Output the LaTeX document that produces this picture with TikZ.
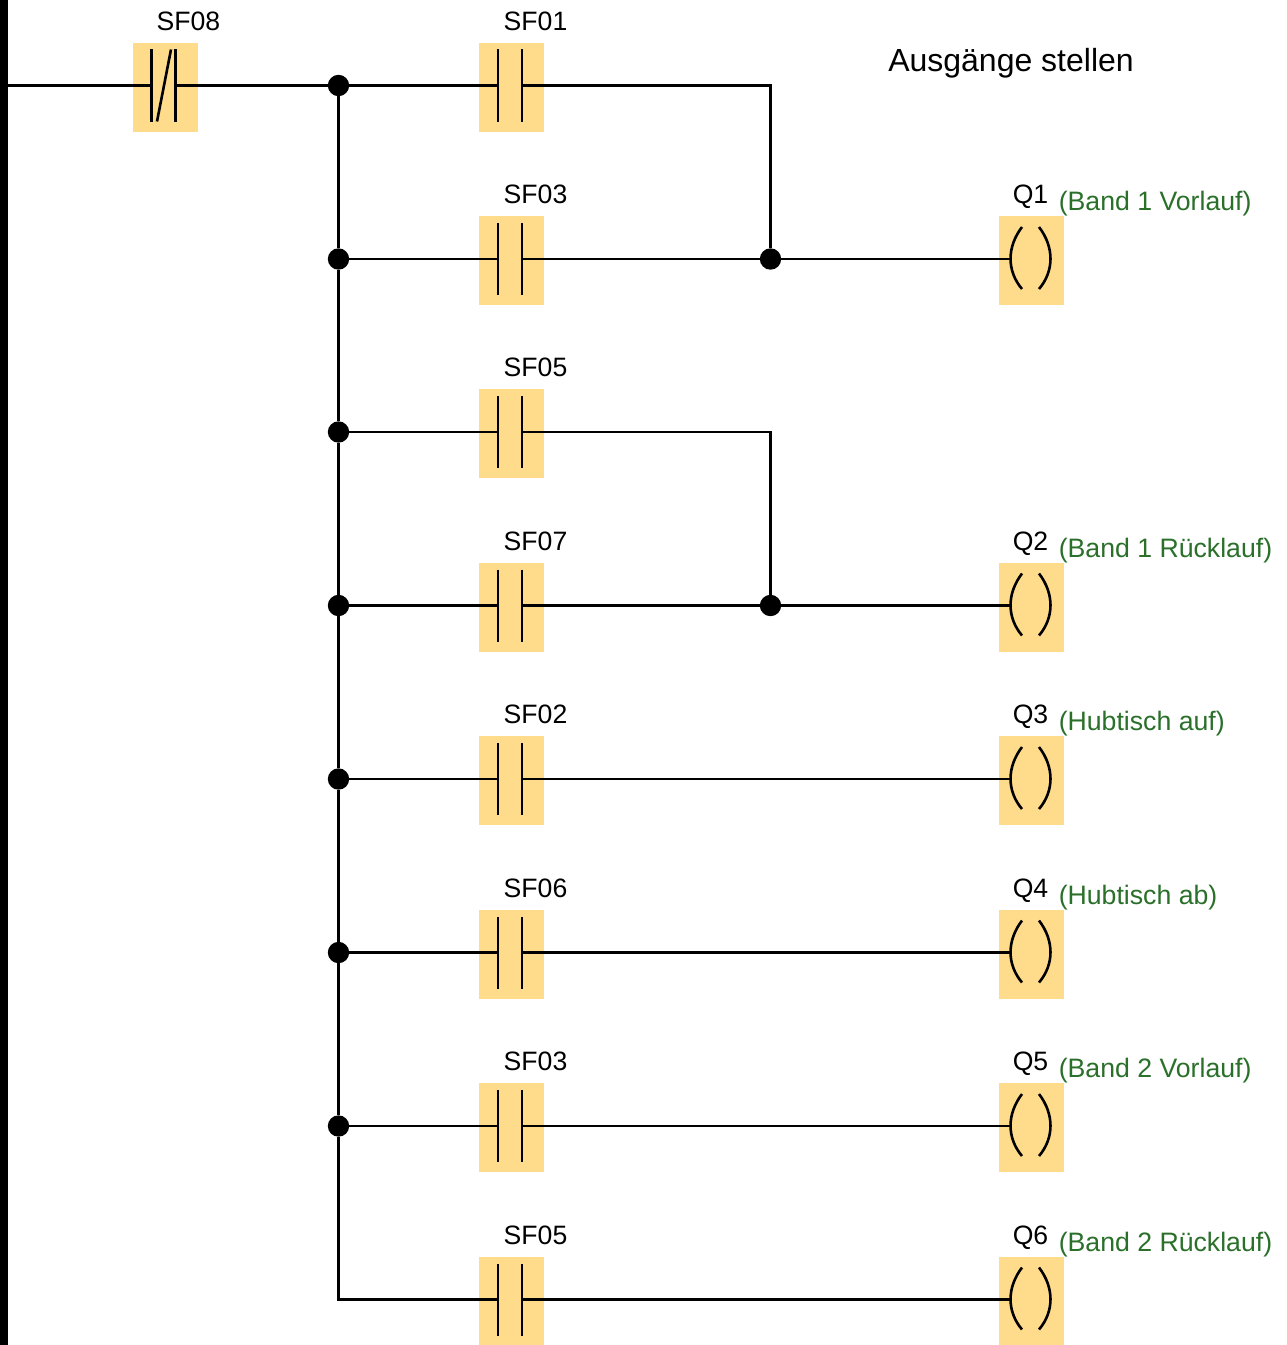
\documentclass[tikz,border=0pt]{standalone}
\usepackage{fontspec}
\setmainfont{Liberation Sans}
\definecolor{boxfill}{HTML}{FFDC8C}
\definecolor{notegreen}{HTML}{2A702A}
\tikzset{
  wire/.style={line width=1.95pt,black,line cap=butt},
  plate/.style={line width=1.95pt,black,line cap=butt},
  cell/.style={fill=boxfill,draw=none,inner sep=0pt,minimum width=48.75pt,minimum height=66.75pt},
  tag/.style={anchor=base,inner sep=0pt,font=\fontsize{19.95pt}{22pt}\selectfont},
  note/.style={anchor=base west,inner sep=0pt,text=notegreen,font=\fontsize{20pt}{22pt}\selectfont},
  title/.style={anchor=base west,inner sep=0pt,font=\fontsize{24pt}{26pt}\selectfont},
  dot/.style={circle,fill=black,draw=none,inner sep=0pt,minimum size=16pt},
}
% #1 name, #2 x of box centre, #3 y of wire, #4 label
\newcommand{\nocontact}[4]{
  \begin{scope}[shift={(#2,#3)}]
    \node[cell] (#1) at (0,1.65) {};
    \node[tag] (#1-tag) at (24,-55.3) {#4};
    \coordinate (#1-l) at (-13.5,0);
    \coordinate (#1-r) at (10.5,0);
    \draw[plate] (-13.5,-36) -- (-13.5,36);
    \draw[plate] (10.5,-36) -- (10.5,36);
  \end{scope}
}
\newcommand{\nccontact}[4]{
  \begin{scope}[shift={(#2,#3)}]
    \node[cell] (#1) at (0,2) {};
    \node[tag] (#1-tag) at (23,-55.3) {#4};
    \coordinate (#1-l) at (-14,0);
    \coordinate (#1-r) at (10,0);
    \draw[plate] (-14,-36) -- (-14,36);
    \draw[plate] (10,-36) -- (10,36);
    \draw[plate] (-8.5,36) -- (5.5,-36);
  \end{scope}
}
% #1 name, #2 y of wire, #3 label, #4 note
\newcommand{\coil}[4]{
  \begin{scope}[shift={(1031.5,#2)}]
    \node[cell] (#1) at (0,1.65) {};
    \node[tag] (#1-tag) at (-1,-55.3) {#3};
    \node[note] (#1-note) at (27,-48.3) {#4};
    \coordinate (#1-l) at (-21,0);
    \draw[plate] (-9.5,-32) .. controls (-24.8,-12) and (-24.8,12) .. (-9.5,30);
    \draw[plate] (7.5,-32) .. controls (22.8,-12) and (22.8,12) .. (7.5,30);
  \end{scope}
}
\begin{document}
\begin{tikzpicture}[x=0.75pt,y=-0.75pt]
\useasboundingbox (0,0) rectangle (1286,1345);
\fill[white] (0,0) rectangle (1286,1345);
\node[fill=black,draw=none,inner sep=0pt,minimum width=6pt,minimum height=1008.75pt] (bar) at (4,672.5) {};

\nccontact{sf08}{165.5}{85.5}{SF08}
\nocontact{sf01}{511.5}{85.5}{SF01}
\nocontact{sf03a}{511.5}{259}{SF03}
\nocontact{sf05a}{511.5}{432}{SF05}
\nocontact{sf07}{511.5}{605.5}{SF07}
\nocontact{sf02}{511.5}{779}{SF02}
\nocontact{sf06}{511.5}{952.5}{SF06}
\nocontact{sf03b}{511.5}{1126}{SF03}
\nocontact{sf05b}{511.5}{1299.5}{SF05}

\coil{q1}{259}{Q1}{(Band 1 Vorlauf)}
\coil{q2}{605.5}{Q2}{(Band 1 Rücklauf)}
\coil{q3}{779}{Q3}{(Hubtisch auf)}
\coil{q4}{952.5}{Q4}{(Hubtisch ab)}
\coil{q5}{1126}{Q5}{(Band 2 Vorlauf)}
\coil{q6}{1299.5}{Q6}{(Band 2 Rücklauf)}

\node[title] (head) at (888,71.7) {Ausgänge stellen};

\node[dot] (j1) at (338.5,85.5) {};
\node[dot] (j2) at (338.5,259) {};
\node[dot] (j3) at (338.5,432) {};
\node[dot] (j4) at (338.5,605.5) {};
\node[dot] (j5) at (338.5,779) {};
\node[dot] (j6) at (338.5,952.5) {};
\node[dot] (j7) at (338.5,1126) {};
\node[dot] (k1) at (770.5,259) {};
\node[dot] (k2) at (770.5,605.5) {};

\draw[wire] (bar.east |- sf08-l) -- (sf08-l);
\draw[wire] (sf08-r) -- (j1);
\draw[wire] (j1) -- (j2);
\draw[wire] (j2) -- (j3);
\draw[wire] (j3) -- (j4);
\draw[wire] (j4) -- (j5);
\draw[wire] (j5) -- (j6);
\draw[wire] (j6) -- (j7);
\draw[wire] (j7) |- (sf05b-l);
\draw[wire] (j1) -- (sf01-l);
\draw[wire] (j2) -- (sf03a-l);
\draw[wire] (j3) -- (sf05a-l);
\draw[wire] (j4) -- (sf07-l);
\draw[wire] (j5) -- (sf02-l);
\draw[wire] (j6) -- (sf06-l);
\draw[wire] (j7) -- (sf03b-l);
\draw[wire] (sf01-r) -| (k1);
\draw[wire] (sf03a-r) -- (k1);
\draw[wire] (k1) -- (q1-l);
\draw[wire] (sf05a-r) -| (k2);
\draw[wire] (sf07-r) -- (k2);
\draw[wire] (k2) -- (q2-l);
\draw[wire] (sf02-r) -- (q3-l);
\draw[wire] (sf06-r) -- (q4-l);
\draw[wire] (sf03b-r) -- (q5-l);
\draw[wire] (sf05b-r) -- (q6-l);
\end{tikzpicture}
\end{document}
